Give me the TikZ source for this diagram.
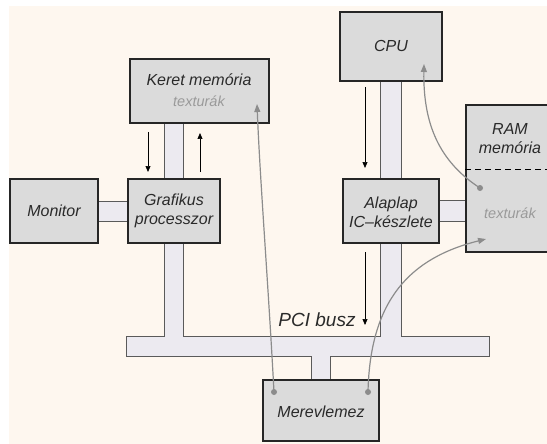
\documentclass[tikz,border=0pt]{standalone}
\usepackage{fontspec}
\setmainfont{Liberation Sans}
\usetikzlibrary{arrows.meta}
\definecolor{bg}{HTML}{FEF7EF}
\definecolor{boxfill}{HTML}{DBDBDB}
\definecolor{busfill}{HTML}{ECEAF0}
\definecolor{busline}{HTML}{5A5A5A}
\definecolor{arrgray}{HTML}{8C8C8C}
\definecolor{texgray}{HTML}{9A9A9A}
\definecolor{txt}{HTML}{2A2A2A}
\begin{document}
\begin{tikzpicture}[x=1pt,y=-1pt,
  box/.style 2 args={draw=black!85, line width=1.4pt, fill=boxfill, inner sep=0pt,
    minimum width=#1pt, minimum height=#2pt},
  lbl/.style={font=\fontsize{16}{19}\selectfont\itshape, text=txt, align=center, inner sep=0pt},
  sublbl/.style={font=\fontsize{14.5}{16}\selectfont\itshape, text=texgray, inner sep=0pt},
  bus/.style={fill=busfill, draw=busline, line width=0.9pt},
  blackarrow/.style={draw=black, line width=0.7pt, -{Triangle[length=6pt,width=5pt]}},
  grayarrow/.style={draw=arrgray, line width=1.2pt, -{Triangle[length=8pt,width=6pt]}},
  dot/.style={circle, fill=arrgray, inner sep=0pt, minimum size=6pt}
]
\clip (0,0) rectangle (547,444);
\fill[white] (0,0) rectangle (547,444);
\fill[bg] (9,6) rectangle (547,444);

% bus structure
\draw[bus] (164,123) -- (164,336) -- (126,336) -- (126,356) -- (311,356) -- (311,380)
  -- (330,380) -- (330,356) -- (489,356) -- (489,336) -- (401,336) -- (401,81)
  -- (380,81) -- (380,336) -- (183,336) -- (183,123) -- cycle;
\draw[bus] (98,201) rectangle (128,221);
\draw[bus] (439,200) rectangle (466,221);

% boxes
\node[box={139}{64}] (keret) at (199.5,91) {};
\node[box={88}{64}] (monitor) at (54,211) {};
\node[box={92}{64}] (grafikus) at (174,211) {};
\node[box={102}{69}] (cpu) at (391,46.5) {};
\node[box={96}{64}] (alaplap) at (391,211) {};
\node[box={96}{147}] (ram) at (514,178.5) {};
\node[box={116}{61}] (merev) at (321,410.5) {};
\draw[black, line width=1pt, dash pattern=on 6pt off 4pt] (ram.west |- 0,169) -- (ram.east |- 0,169);

% labels
\node[lbl] (tkeret) at (199,80) {Keret memória};
\node[sublbl] (tkerettex) at (199,101) {texturák};
\node[lbl] (tmonitor) at (54,211) {Monitor};
\node[lbl] (tgraf) at (174,211) {Grafikus\\processzor};
\node[lbl] (tcpu) at (391,46) {CPU};
\node[lbl] (tram) at (510,139) {RAM\\memória};
\node[sublbl] (tramtex) at (510,213) {texturák};
\node[lbl] (talap) at (391,212) {Alaplap\\IC–készlete};
\node[lbl, font=\fontsize{19}{22}\selectfont\itshape] (tpci) at (317,320) {PCI busz};
\node[lbl] (tmerev) at (321,412) {Merevlemez};

% black arrows
\coordinate (a1s) at (148,132); \coordinate (a1e) at (148,172);
\coordinate (a2s) at (200,172); \coordinate (a2e) at (200,133);
\coordinate (a3s) at (365,87);  \coordinate (a3e) at (365,168);
\coordinate (a4s) at (365,252); \coordinate (a4e) at (365,325);
\draw[blackarrow] (a1s) -- (a1e);
\draw[blackarrow] (a2s) -- (a2e);
\draw[blackarrow] (a3s) -- (a3e);
\draw[blackarrow] (a4s) -- (a4e);

% gray data-path arrows
\node[dot] (d1) at (274,392) {};
\node[dot] (d2) at (368,392) {};
\node[dot] (d3) at (480,188) {};
\coordinate (g1e) at (257,104);
\coordinate (g2e) at (486,239);
\coordinate (g3e) at (424,64);
\draw[grayarrow] (d1.center) .. controls (268,280) and (260,180) .. (g1e);
\draw[grayarrow] (d2.center) .. controls (370,300) and (410,258) .. (g2e);
\draw[grayarrow] (d3.center) .. controls (440,162) and (423,125) .. (g3e);
\end{tikzpicture}
\end{document}
